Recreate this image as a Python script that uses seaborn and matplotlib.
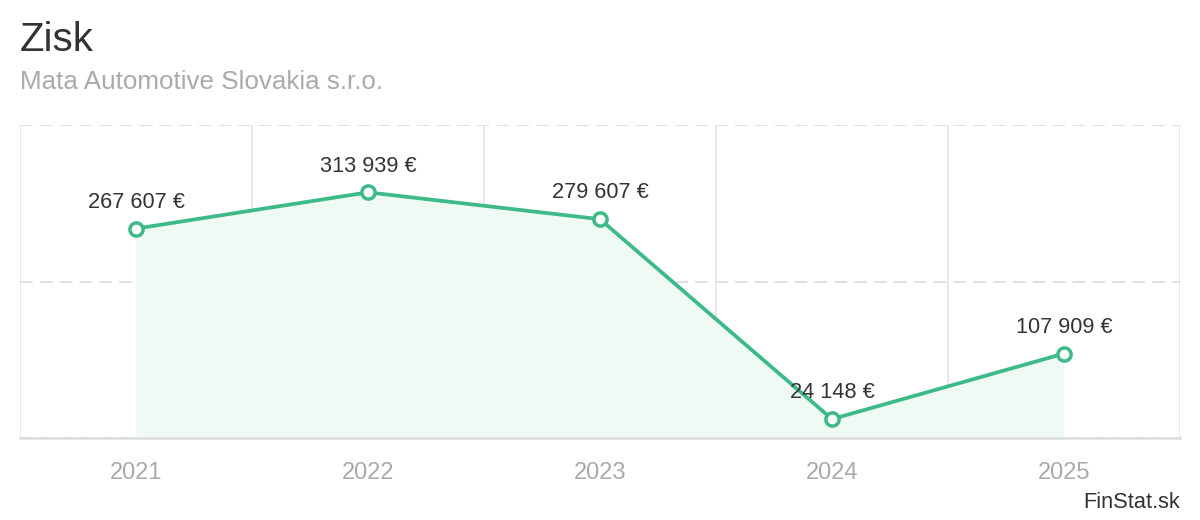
import numpy as np
import pandas as pd
import matplotlib.pyplot as plt
from matplotlib.ticker import FixedLocator
import seaborn as sns

# %%
years = [2021, 2022, 2023, 2024, 2025]
profit = [267607, 313939, 279607, 24148, 107909]
labels = ["267 607 €", "313 939 €", "279 607 €", "24 148 €", "107 909 €"]
y_grid = [0, 200000, 400000]

df = pd.DataFrame({"year": years, "profit": profit})

green = "#3dba87"
fill_green = "#effaf5"
grid_col = "#e4e4e4"

# %%
sns.set_style("white")
plt.rcParams["font.family"] = ["Liberation Sans", "DejaVu Sans"]

fig = plt.figure(figsize=(12, 5.2), dpi=100)
ax = fig.add_axes([20 / 1200, 1 - 438 / 520, 1160 / 1200, 313 / 520])

ax.fill_between(df["year"], df["profit"], 0, color=fill_green, zorder=1, linewidth=0)
sns.lineplot(
  data=df,
  x="year",
  y="profit",
  color=green,
  linewidth=2.7,
  marker="o",
  markersize=9.5,
  markerfacecolor="white",
  markeredgecolor=green,
  markeredgewidth=2.5,
  zorder=4,
  ax=ax,
)

for x, y, t in zip(years, profit, labels):
  ax.annotate(
    t, (x, y),
    xytext=(0, 15), textcoords="offset points",
    ha="center", va="baseline",
    fontsize=15.7, color="#333333", zorder=5,
  )

ax.set_xlim(years[0] - 0.5, years[-1] + 0.5)
ax.set_ylim(0, 400000)
ax.set_xticks(years)
ax.set_xticklabels([str(y) for y in years])
ax.xaxis.set_minor_locator(FixedLocator([y + 0.5 for y in [years[0] - 1] + years]))
ax.set_yticks(y_grid)
ax.set_yticklabels([])

ax.grid(which="minor", axis="x", color=grid_col, linewidth=1.2, zorder=0)
ax.grid(which="major", axis="y", color="#dddddd", linewidth=1.3,
        linestyle=(0, (7, 4)), zorder=0)
ax.grid(which="major", axis="x", visible=False)
ax.set_axisbelow(True)

for s in ["top", "left", "right"]:
  ax.spines[s].set_visible(False)
ax.spines["bottom"].set_color("#dddddd")
ax.spines["bottom"].set_linewidth(1.8)

ax.tick_params(axis="x", which="both", length=0, pad=17, labelsize=17, labelcolor="#aaaaaa")
ax.tick_params(axis="y", length=0)
ax.set_xlabel("")
ax.set_ylabel("")

fig.text(20 / 1200, 1 - 51 / 520, "Zisk", fontsize=29, color="#333333", va="baseline")
fig.text(20 / 1200, 1 - 89 / 520, "Mata Automotive Slovakia s.r.o.", fontsize=18.7,
         color="#aaaaaa", va="baseline")
fig.text(1180 / 1200, 1 - 508 / 520, "FinStat.sk", fontsize=15.7, color="#333333",
         ha="right", va="baseline")

plt.savefig("out.png", dpi=100)
